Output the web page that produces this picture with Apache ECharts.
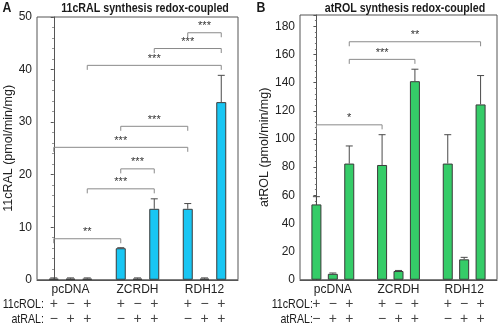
<!DOCTYPE html>
<html>
<head>
<meta charset="utf-8">
<script src="https://cdn.jsdelivr.net/npm/echarts@6/dist/echarts.min.js"></script>
<style>
html,body{margin:0;padding:0;background:#fff;}
#chart{width:500px;height:326px;}
</style>
</head>
<body>
<div id="chart"></div>
<script>
// ---- data ----
const groups = ['pcDNA', 'ZCRDH', 'RDH12'];
const rol11cSigns = ['+', '\u2212', '+'];
const atRALSigns = ['\u2212', '+', '+'];

const ralTicks = [0, 10, 20, 30, 40, 50];
const ralMeans = [0.2, 0.2, 0.2, 6.0, 0.2, 13.5, 13.5, 0.2, 33.8];
const ralSD    = [0.15, 0.15, 0.15, 0.1, 0.15, 1.9, 1.0, 0.15, 5.1];
// [fromBar, toBar, level, stars]
const ralBrackets = [
  [6, 8, 47.0, '***'],
  [5, 8, 44.0, '***'],
  [2, 8, 40.8, '***'],
  [3, 6, 29.2, '***'],
  [0, 6, 25.2, '***'],
  [3, 5, 21.1, '***'],
  [2, 5, 17.3, '***'],
  [0, 3, 7.8, '**']
];

const rolTicks = [0, 20, 40, 60, 80, 100, 120, 140, 160, 180];
const rolMeans = [53.5, 4.2, 82.5, 81.5, 6.2, 141, 82.5, 14.5, 124.5];
const rolSD    = [5.5, 0.6, 12.5, 21.5, 0.4, 8.5, 20.5, 1.4, 20.5];
const rolBrackets = [
  [2, 8, 169, '**'],
  [2, 5, 156.5, '***'],
  [0, 3, 110, '*']
];

// ---- helpers ----
const FONT = "'Liberation Sans', Arial, sans-serif";
const NARROW = 0.82;
function slotOf(bar) { return Math.floor(bar / 3) * 4 + (bar % 3); }

function barData(means) { return means.map((v, i) => [slotOf(i), v]); }
function errData(means, sd) { return means.map((v, i) => [slotOf(i), v, v + sd[i]]); }
function brData(br) { return br.map(b => [slotOf(b[0]), slotOf(b[1]), b[2]]); }

function xLabel(value) {
  const s = Math.round(value);
  if (s < 0) return '';
  const g = Math.floor(s / 4), i = s % 4;
  if (i === 3 || g > 2) return '';
  return '{g|' + (i === 1 ? groups[g] : ' ') + '}\n{s|' + rol11cSigns[i] + '}\n{s|' + atRALSigns[i] + '}';
}

function errRender(params, api) {
  const x = api.value(0), y0 = api.value(1), y1 = api.value(2);
  const p0 = api.coord([x, y0]), p1 = api.coord([x, y1]);
  const st = { stroke: '#4a4a4a', lineWidth: 1 };
  return {
    type: 'group',
    children: [
      { type: 'line', shape: { x1: p0[0], y1: p0[1], x2: p1[0], y2: p1[1] }, style: st },
      { type: 'line', shape: { x1: p1[0] - 3.5, y1: p1[1], x2: p1[0] + 3.5, y2: p1[1] }, style: st }
    ]
  };
}

function makeBrRender(br) {
  return function (params, api) {
    const a = api.coord([api.value(0), api.value(2)]);
    const b = api.coord([api.value(1), api.value(2)]);
    return {
      type: 'group',
      children: [
        { type: 'polyline', shape: { points: [[a[0], a[1] + 4.5], [a[0], a[1]], [b[0], b[1]], [b[0], b[1] + 4.5]] },
          style: { stroke: '#8a8a8a', lineWidth: 1, fill: null } },
        { type: 'text', x: (a[0] + b[0]) / 2, y: a[1] - 1,
          style: { text: br[params.dataIndex][3], align: 'center', verticalAlign: 'bottom',
                   font: '11px ' + FONT, fill: '#333' } }
      ]
    };
  };
}

function xAxisCfg(gi) {
  return {
    type: 'value', gridIndex: gi, min: -1, max: 11, interval: 1,
    axisLine: { show: true, lineStyle: { color: '#555', width: 1 } },
    axisTick: { show: false }, splitLine: { show: false },
    axisLabel: {
      show: true, margin: 3, formatter: xLabel, color: '#222',
      showMinLabel: true, showMaxLabel: true, hideOverlap: false,
      rich: {
        g: { fontSize: 12, lineHeight: 14.5, fontFamily: FONT, color: '#222' },
        s: { fontSize: 14, lineHeight: 14.5, fontFamily: FONT, color: '#444' }
      }
    }
  };
}

function yAxisCfg(gi, max, interval, name, gap) {
  return {
    type: 'value', gridIndex: gi, min: 0, max: max, interval: interval,
    name: name, nameLocation: 'middle', nameGap: gap, nameRotate: 90,
    nameTextStyle: { fontSize: 12.5, fontFamily: FONT, color: '#222' },
    axisLine: { show: true, lineStyle: { color: '#555', width: 1 } },
    axisTick: { show: true, length: 3, lineStyle: { color: '#555' } },
    minorTick: { show: true, splitNumber: 5, length: 1.5, lineStyle: { color: '#777' } },
    splitLine: { show: false },
    axisLabel: { fontSize: 12, fontFamily: FONT, color: '#222', margin: 5, showMaxLabel: max % interval === 0,
      formatter: v => (v % interval === 0 ? String(v) : '') }
  };
}

function txt(x, y, text, font, align) {
  return { type: 'text', x: x, y: y, scaleX: NARROW,
    style: { text: text, font: font, fill: '#1a1a1a', align: align, verticalAlign: 'middle' } };
}

const chart = echarts.init(document.getElementById('chart'), null, { renderer: 'canvas' });
chart.setOption({
  animation: false,
  backgroundColor: '#fff',
  grid: [
    { left: 37, right: 262, top: 17, bottom: 46, show: true, borderColor: '#555', borderWidth: 1, containLabel: false },
    { left: 300, right: 2, top: 15, bottom: 45, show: true, borderColor: '#555', borderWidth: 1, containLabel: false }
  ],
  xAxis: [xAxisCfg(0), xAxisCfg(1)],
  yAxis: [
    yAxisCfg(0, ralTicks[ralTicks.length - 1], ralTicks[1] - ralTicks[0], '11cRAL (pmol/min/mg)', 21),
    yAxisCfg(1, 188, rolTicks[1] - rolTicks[0], 'atROL (pmol/min/mg)', 28)
  ],
  graphic: [
    txt(7, 8, 'A', 'bold 15px ' + FONT, 'center'),
    txt(145, 8, '11cRAL synthesis redox-coupled', 'bold 13px ' + FONT, 'center'),
    txt(261, 8, 'B', 'bold 15px ' + FONT, 'center'),
    txt(405, 8, 'atROL synthesis redox-coupled', 'bold 13px ' + FONT, 'center'),
    txt(44, 304.5, '11cROL:', '13px ' + FONT, 'right'),
    txt(44, 319, 'atRAL:', '13px ' + FONT, 'right'),
    txt(313, 304.5, '11cROL:', '13px ' + FONT, 'right'),
    txt(313, 319, 'atRAL:', '13px ' + FONT, 'right')
  ],
  series: [
    { type: 'bar', xAxisIndex: 0, yAxisIndex: 0, barWidth: 10, data: barData(ralMeans),
      itemStyle: { color: '#19c6f3', borderColor: '#3a3a3a', borderWidth: 1 }, z: 2 },
    { type: 'custom', xAxisIndex: 0, yAxisIndex: 0, data: errData(ralMeans, ralSD), renderItem: errRender, z: 3 },
    { type: 'custom', xAxisIndex: 0, yAxisIndex: 0, data: brData(ralBrackets), renderItem: makeBrRender(ralBrackets), z: 4 },
    { type: 'bar', xAxisIndex: 1, yAxisIndex: 1, barWidth: 10, data: barData(rolMeans),
      itemStyle: { color: '#35cc68', borderColor: '#3a3a3a', borderWidth: 1 }, z: 2 },
    { type: 'custom', xAxisIndex: 1, yAxisIndex: 1, data: errData(rolMeans, rolSD), renderItem: errRender, z: 3 },
    { type: 'custom', xAxisIndex: 1, yAxisIndex: 1, data: brData(rolBrackets), renderItem: makeBrRender(rolBrackets), z: 4 }
  ]
});
</script>
</body>
</html>
